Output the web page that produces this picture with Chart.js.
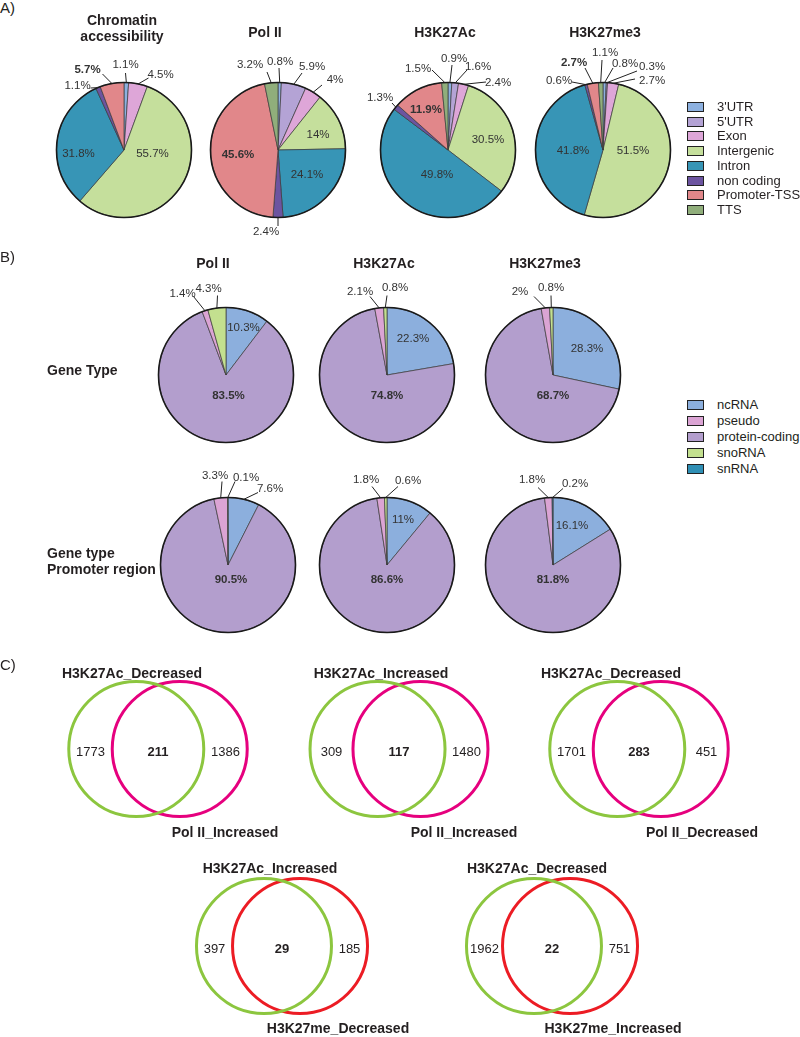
<!DOCTYPE html>
<html>
<head>
<meta charset="utf-8">
<script src="https://cdn.jsdelivr.net/npm/chart.js@4.4.1/dist/chart.umd.min.js"></script>
<style>
  body { margin: 0; background: #fff; }
  #page { position: relative; width: 800px; height: 1037px; overflow: hidden;
          font-family: "Liberation Sans", Arial, sans-serif; color: #231f20; }
  #page canvas { position: absolute; }
  .t { position: absolute; white-space: nowrap; transform: translate(-50%, -50%);
       font-weight: bold; font-size: 14px; line-height: 16px; text-align: center; }
  .l { position: absolute; white-space: nowrap; transform: translateY(-50%);
       font-size: 14px; line-height: 16px; }
  .sec { position: absolute; font-size: 15px; line-height: 16px; }
  .box { position: absolute; border: 1.5px solid #222; box-sizing: border-box; }
  .lg { position: absolute; white-space: nowrap; transform: translateY(-50%);
        font-size: 13px; line-height: 14px; }
</style>
</head>
<body>
<div id="page"></div>
<script>
// ---- A) genomic region distribution (%), clockwise from 12 o'clock
const regionCats = ["3'UTR", "5'UTR", "Exon", "Intergenic", "Intron", "non coding", "Promoter-TSS", "TTS"];
const regionColors = ["#8db1e0", "#b4a3d5", "#dea6d8", "#c5df9c", "#3795b6", "#6c54a0", "#e1878a", "#90ae7b"];
const regionTitles = ["Chromatin<br>accessibility", "Pol II", "H3K27Ac", "H3K27me3"];
const chromatinPct = [1.1, 0, 4.5, 55.7, 31.8, 1.1, 5.7, 0];
const polIIPct = [0.8, 5.9, 4, 14, 24.1, 2.4, 45.6, 3.2];
const h3k27acPct = [0.9, 1.6, 2.4, 30.5, 49.8, 1.3, 11.9, 1.5];
const h3k27me3Pct = [0.8, 0.3, 2.7, 51.5, 41.8, 0.6, 2.7, 1.1];

// ---- B) gene type distribution (%)
const geneCats = ["ncRNA", "pseudo", "protein-coding", "snoRNA", "snRNA"];
const geneColors = ["#8cafdd", "#dba4d4", "#b39ecd", "#c3e08f", "#2f8fb5"];
const geneDrawOrder = [0, 2, 1, 3, 4];
const geneTitles = ["Pol II", "H3K27Ac", "H3K27me3"];
const geneRowLabels = ["Gene Type", "Gene type<br>Promoter region"];
const geneTypePolII = [10.3, 1.4, 83.5, 4.3, 0];
const geneTypeH3K27Ac = [22.3, 2.1, 74.8, 0.8, 0];
const geneTypeH3K27me3 = [28.3, 2, 68.7, 0.8, 0];
const promoterPolII = [7.6, 3.3, 90.5, 0.1, 0];
const promoterH3K27Ac = [11, 1.8, 86.6, 0.6, 0];
const promoterH3K27me3 = [16.1, 1.8, 81.8, 0, 0.2];

// ---- C) overlaps
const vennSetA = ["H3K27Ac_Decreased", "H3K27Ac_Increased", "H3K27Ac_Decreased", "H3K27Ac_Increased", "H3K27Ac_Decreased"];
const vennSetB = ["Pol II_Increased", "Pol II_Increased", "Pol II_Decreased", "H3K27me_Decreased", "H3K27me_Increased"];
const vennOnlyA = [1773, 309, 1701, 397, 1962];
const vennBoth = [211, 117, 283, 29, 22];
const vennOnlyB = [1386, 1480, 451, 185, 751];

// ---- layout
const page = document.getElementById("page");
const PIE_R = 67.5;
const regionCenters = [[123.5, 150], [278, 150], [448, 150], [603, 150]];
const regionTitlePos = [[122, 28], [265, 32], [445, 32], [605, 32]];
// label text offset from pie centre [dx, dy] (+ start of leader line)
const regionLabelPos = [
  {0: [1.5, -85, 1.5, -77], 2: [36.5, -75, 24.5, -72], 3: [28.5, 4], 4: [-45.5, 4],
   5: [-46.5, -64, -33.5, -62], 6: [-36.5, -80, -21.5, -76]},
  {0: [2, -88, 1, -82], 1: [34, -83, 24, -77], 2: [57, -70, 44, -65], 3: [40, -15], 4: [29, 25],
   5: [-12, 82, 0, 76], 6: [-40, 5], 7: [-28, -85, -11, -78]},
  {0: [6, -91, 4, -85], 1: [30, -83, 19, -80], 2: [50, -67, 38, -68], 3: [40, -10], 4: [-11, 25],
   5: [-68, -52, -56, -47], 6: [-22, -40], 7: [-30, -81, -16, -80]},
  {0: [22, -86, 10, -82], 1: [49, -83, 34, -79], 2: [49, -69, 32, -71], 3: [30, 1], 4: [-30, 1],
   5: [-44, -69, -31, -68], 6: [-29, -87, -18, -82], 7: [2, -97, -1, -90]},
];
const geneCenters = [[225.5, 374.5], [387, 374.5], [553, 374.5], [228, 564.5], [387, 564.5], [553, 564.5]];
const geneTitlePos = [[213, 263], [384, 263], [545, 263]];
const geneLabelPos = [
  {0: [17.5, -47.5], 2: [2.5, 20.5], 1: [-43.5, -81.5, -32.5, -78.5], 3: [-17.5, -86.5, -8.5, -79.5]},
  {0: [26, -36.5], 2: [0, 20.5], 1: [-27, -83.5, -17, -78.5], 3: [8, -87.5, 0, -79.5]},
  {0: [34, -26.5], 2: [0, 20.5], 1: [-33, -83.5, -19, -78.5], 3: [-2, -87.5, -2, -79.5]},
  {0: [42, -76.5, 30, -72.5], 2: [3, 14.5], 1: [-13, -89.5, -6, -83.5], 3: [18, -87.5, 7, -83.5]},
  {0: [16, -45.5], 2: [0, 14.5], 1: [-21, -85.5, -15, -78.5], 3: [21, -84.5, 11, -78.5]},
  {0: [19, -39.5], 2: [0, 14.5], 1: [-21, -85.5, -15, -77.5], 4: [22, -81.5, 10, -76.5]},
];
const VENN_R = 67.5;
const vennLayout = [[158, 749, 41], [399, 749, 40.5], [639, 749, 41], [281.5, 946, 34], [552, 946, 34]];
const vennTextPos = [[132, 673, 225, 832], [381, 673, 464, 832], [611, 673, 702, 832], [270, 868, 338, 1028], [537, 868, 613, 1028]];
const vennColorA = "#8cc63f";
const vennColorB = ["#e6007e", "#e6007e", "#e6007e", "#ec1c24", "#ec1c24"];

function addText(cls, html, x, y) {
  const d = document.createElement("div");
  d.className = cls;
  d.innerHTML = html;
  d.style.left = x + "px";
  d.style.top = y + "px";
  page.appendChild(d);
  return d;
}

function addCanvas(left, top, w, h) {
  const cv = document.createElement("canvas");
  cv.width = w;
  cv.height = h;
  cv.style.left = left + "px";
  cv.style.top = top + "px";
  page.appendChild(cv);
  return cv;
}

const pieLabels = {
  id: "pieLabels",
  afterDatasetsDraw(chart, args, opts) {
    const ctx = chart.ctx;
    const meta = chart.getDatasetMeta(0);
    const first = meta.data[0];
    const cx = first.x, cy = first.y, R = first.outerRadius;
    const values = chart.data.datasets[0].data;
    ctx.save();
    ctx.beginPath();
    ctx.arc(cx, cy, R, 0, Math.PI * 2);
    ctx.lineWidth = 1.6;
    ctx.strokeStyle = "#1a1a1a";
    ctx.stroke();
    ctx.textAlign = "center";
    ctx.textBaseline = "middle";
    meta.data.forEach((arc, i) => {
      const p = opts.pos[i];
      if (!p) return;
      ctx.font = (i === opts.bold ? "bold " : "") + '11.5px "Liberation Sans", Arial, sans-serif';
      ctx.fillStyle = "#333";
      ctx.fillText(values[i] + "%", cx + p[0], cy + p[1]);
      if (p.length > 2) {
        const mid = (arc.startAngle + arc.endAngle) / 2;
        ctx.beginPath();
        ctx.moveTo(cx + p[2], cy + p[3]);
        ctx.lineTo(cx + R * Math.cos(mid), cy + R * Math.sin(mid));
        ctx.lineWidth = 1;
        ctx.strokeStyle = "#222";
        ctx.stroke();
      }
    });
    ctx.restore();
  }
};

function pieChart(center, labels, values, colors, pos, boldIdx) {
  const cv = addCanvas(center[0] - 120, center[1] - 115, 240, 230);
  return new Chart(cv, {
    type: "pie",
    data: {
      labels: labels,
      datasets: [{
        data: values,
        backgroundColor: colors,
        borderColor: "#3a3a3a",
        borderWidth: 0.7,
      }],
    },
    options: {
      responsive: false,
      animation: false,
      events: [],
      radius: PIE_R,
      layout: { padding: 0 },
      plugins: {
        legend: { display: false },
        tooltip: { enabled: false },
        pieLabels: { pos: pos, bold: boldIdx },
      },
    },
    plugins: [pieLabels],
  });
}

function legend(cats, colors, x, y0, step) {
  cats.forEach((c, i) => {
    const y = y0 + i * step;
    const b = document.createElement("div");
    b.className = "box";
    b.style.cssText = `left:${x}px;top:${y - 5}px;width:17px;height:10px;background:${colors[i]}`;
    page.appendChild(b);
    addText("lg", c, x + 30, y);
  });
}

// ---- A
addText("sec", "A)", 0, 0);
const regionData = [chromatinPct, polIIPct, h3k27acPct, h3k27me3Pct];
regionData.forEach((vals, k) => {
  pieChart(regionCenters[k], regionCats, vals, regionColors, regionLabelPos[k], 6);
  addText("t", regionTitles[k], regionTitlePos[k][0], regionTitlePos[k][1]);
});
legend(regionCats, regionColors, 687, 107, 14.7);

// ---- B
addText("sec", "B)", 0, 249);
const geneData = [geneTypePolII, geneTypeH3K27Ac, geneTypeH3K27me3, promoterPolII, promoterH3K27Ac, promoterH3K27me3];
geneData.forEach((vals, k) => {
  const pos = {};
  geneDrawOrder.forEach((ci, di) => { if (geneLabelPos[k][ci]) pos[di] = geneLabelPos[k][ci]; });
  pieChart(
    geneCenters[k],
    geneDrawOrder.map(i => geneCats[i]),
    geneDrawOrder.map(i => vals[i]),
    geneDrawOrder.map(i => geneColors[i]),
    pos,
    geneDrawOrder.indexOf(2)
  );
});
geneTitles.forEach((t, k) => addText("t", t, geneTitlePos[k][0], geneTitlePos[k][1]));
addText("l", geneRowLabels[0], 47, 370).style.fontWeight = "bold";
addText("l", geneRowLabels[1], 47, 561).style.fontWeight = "bold";
legend(geneCats, geneColors, 687, 405, 16);

// ---- C
addText("sec", "C)", 0, 657);
const vennCounts = {
  id: "vennCounts",
  afterDatasetsDraw(chart, args, opts) {
    const ctx = chart.ctx;
    const a = chart.getDatasetMeta(0).data[0];
    const b = chart.getDatasetMeta(1).data[0];
    const r = chart.data.datasets[0].data[0].r;
    const mid = (a.x + b.x) / 2;
    const y = a.y + 3;
    ctx.save();
    ctx.fillStyle = "#231f20";
    ctx.textAlign = "center";
    ctx.textBaseline = "middle";
    ctx.font = '13px "Liberation Sans", Arial, sans-serif';
    ctx.fillText(String(opts.counts[0]), mid - r, y);
    ctx.fillText(String(opts.counts[2]), mid + r, y);
    ctx.font = 'bold 13px "Liberation Sans", Arial, sans-serif';
    ctx.fillText(String(opts.counts[1]), mid, y);
    ctx.restore();
  }
};

vennSetA.forEach((name, i) => {
  const [cx, cy, hs] = vennLayout[i];
  const cv = addCanvas(cx - 150, cy - 75, 300, 150);
  new Chart(cv, {
    type: "bubble",
    data: {
      datasets: [
        { label: name, data: [{ x: -hs, y: 0, r: VENN_R }], borderColor: vennColorA,
          backgroundColor: "rgba(0,0,0,0)", borderWidth: 3, clip: false },
        { label: vennSetB[i], data: [{ x: hs, y: 0, r: VENN_R }], borderColor: vennColorB[i],
          backgroundColor: "rgba(0,0,0,0)", borderWidth: 3, clip: false },
      ],
    },
    options: {
      responsive: false,
      animation: false,
      events: [],
      layout: { padding: 0 },
      scales: {
        x: { display: false, min: -150, max: 150 },
        y: { display: false, min: -75, max: 75 },
      },
      plugins: {
        legend: { display: false },
        tooltip: { enabled: false },
        vennCounts: { counts: [vennOnlyA[i], vennBoth[i], vennOnlyB[i]] },
      },
    },
    plugins: [vennCounts],
  });
  addText("t", name, vennTextPos[i][0], vennTextPos[i][1]);
  addText("t", vennSetB[i], vennTextPos[i][2], vennTextPos[i][3]);
});
</script>
</body>
</html>
